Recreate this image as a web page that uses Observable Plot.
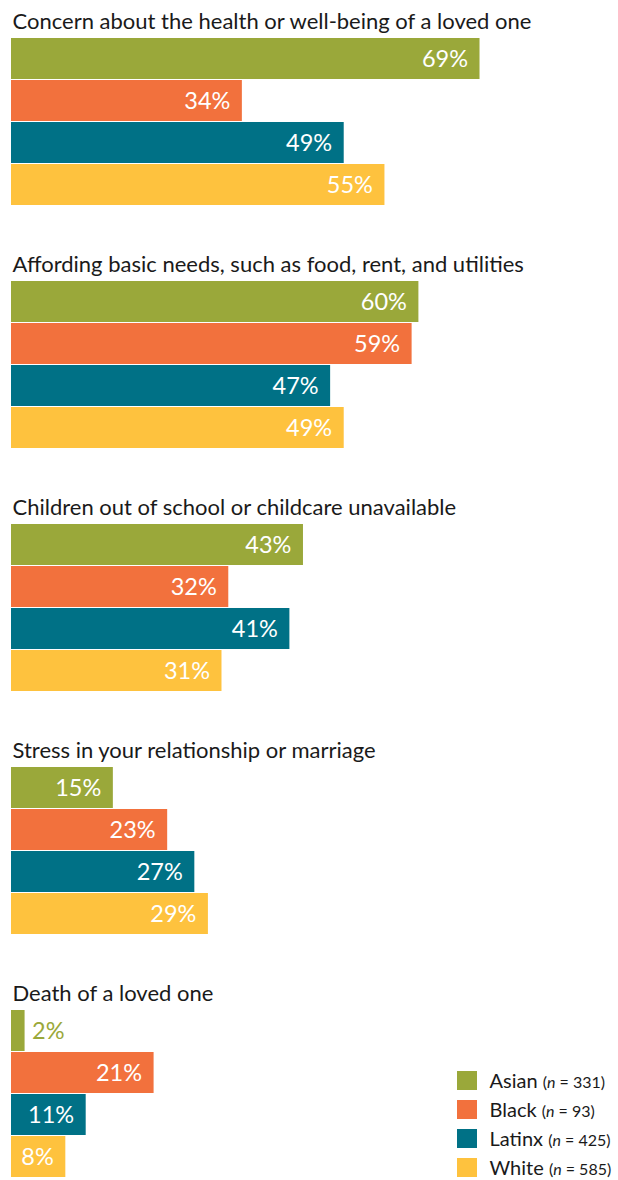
<!DOCTYPE html>
<html>
<head>
<meta charset="utf-8">
<script src="https://cdn.jsdelivr.net/npm/d3@7"></script>
<script src="https://cdn.jsdelivr.net/npm/@observablehq/plot@0.6"></script>
<style>
  html, body { margin: 0; padding: 0; background: #fff; }
  #wrap { position: relative; width: 618px; height: 1180px; font-family: Lato, "Open Sans", sans-serif; }
  #wrap svg { display: block; }
  #legend { position: absolute; left: 457px; top: 1071px; color: #1a1a1a; }
  .item { display: flex; align-items: center; height: 19px; margin-bottom: 10px; }
  .sw { width: 19.5px; height: 19px; margin-right: 13px; flex: none; }
  .lab { font-size: 20px; white-space: nowrap; line-height: 19px; }
  .n { font-size: 16px; }
</style>
</head>
<body>
<div id="wrap"></div>
<script>
// ---- data ----
const groups = [
  "Concern about the health or well-being of a loved one",
  "Affording basic needs, such as food, rent, and utilities",
  "Children out of school or childcare unavailable",
  "Stress in your relationship or marriage",
  "Death of a loved one"
];
const races = ["Asian", "Black", "Latinx", "White"];
const sampleSizes = [331, 93, 425, 585];
const colors = ["#9aa83a", "#f2713d", "#007186", "#fec23e"];

const concernValues = [69, 34, 49, 55];
const basicNeedsValues = [60, 59, 47, 49];
const childcareValues = [43, 32, 41, 31];
const relationshipValues = [15, 23, 27, 29];
const deathValues = [2, 21, 11, 8];

const seriesByGroup = [concernValues, basicNeedsValues, childcareValues, relationshipValues, deathValues];

const rows = [];
groups.forEach((g, gi) => {
  races.forEach((r, ri) => {
    rows.push({group: g, race: r, value: seriesByGroup[gi][ri]});
  });
});

const font = "Lato, 'Open Sans', sans-serif";

const chart = Plot.plot({
  width: 618,
  height: 1180,
  marginTop: 37,
  marginBottom: 2,
  marginLeft: 11,
  marginRight: 0,
  style: {fontFamily: font, background: "white", overflow: "visible"},
  x: {domain: [0, 100], range: [11, 690], axis: null},
  y: {domain: races, paddingInner: 0.032, paddingOuter: 0, axis: null},
  fy: {domain: groups, paddingInner: 0.312, paddingOuter: 0, axis: null},
  color: {domain: races, range: colors},
  marks: [
    Plot.barX(rows, {x: "value", y: "race", fy: "group", fill: "race"}),
    Plot.text(rows.filter(d => d.value >= 5), {
      x: "value", y: "race", fy: "group", text: d => d.value + "%",
      textAnchor: "end", dx: -12, fill: "white", fontSize: 23.5
    }),
    Plot.text(rows.filter(d => d.value < 5), {
      x: "value", y: "race", fy: "group", text: d => d.value + "%",
      textAnchor: "start", dx: 7, fill: "race", fontSize: 23.5
    }),
    Plot.text(groups, {
      fy: d => d, text: d => d, frameAnchor: "top-left", lineAnchor: "bottom",
      dx: 1, dy: -10, fill: "#1a1a1a", fontSize: 22
    })
  ]
});

const wrap = document.getElementById("wrap");
wrap.appendChild(chart);

const legend = document.createElement("div");
legend.id = "legend";
races.forEach((r, i) => {
  const item = document.createElement("div");
  item.className = "item";
  item.innerHTML = `<div class="sw" style="background:${colors[i]}"></div><div class="lab">${r} <span class="n">(<i>n</i> = ${sampleSizes[i]})</span></div>`;
  legend.appendChild(item);
});
wrap.appendChild(legend);
</script>
</body>
</html>
